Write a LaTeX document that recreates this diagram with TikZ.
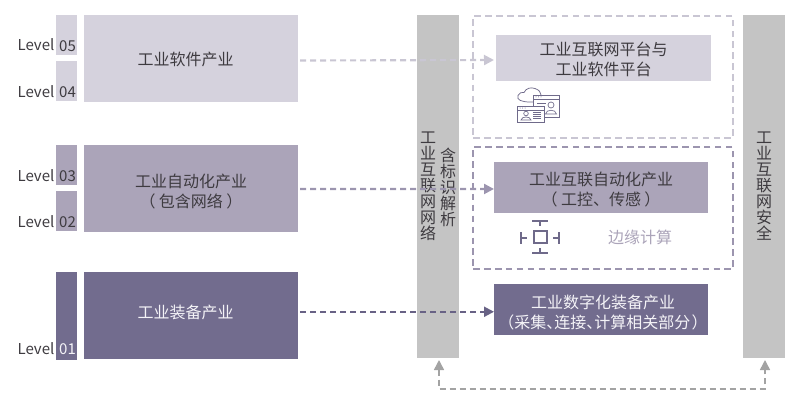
\documentclass[tikz,border=0pt]{standalone}
\usepackage{fontspec}
\setmainfont{Noto Sans CJK SC}
\usetikzlibrary{arrows.meta}
\definecolor{lightP}{HTML}{D5D2DD}
\definecolor{midP}{HTML}{ABA4B9}
\definecolor{darkP}{HTML}{726C8E}
\definecolor{barG}{HTML}{C4C4C4}
\definecolor{txtD}{HTML}{3E3B40}
\definecolor{txtW}{HTML}{F4F3F7}
\definecolor{arrL}{HTML}{C9C6D3}
\definecolor{arrM}{HTML}{9C95AF}
\definecolor{arrD}{HTML}{686285}
\definecolor{arrG}{HTML}{A3A3A3}
\definecolor{iconC}{HTML}{6F6A8A}
\newcommand\lifted[3]{\raisebox{#1}[0pt][0pt]{\hspace*{#2}\begin{tabular}{@{}c@{}}#3\end{tabular}}}
\tikzset{
  x=0.75pt,y=-0.75pt,
  block/.style={inner sep=0pt,outer sep=0pt,align=center,font=\fontsize{12pt}{15pt}\selectfont,text=txtD},
  softfill/.style={block,fill=lightP},
  midfill/.style={block,fill=midP},
  darkfill/.style={block,fill=darkP,text=txtW},
  barbox/.style={block,fill=barG,font=\fontsize{12pt}{12pt}\selectfont},
  lvl/.style={inner sep=0pt,font=\fontsize{11.25pt}{12pt}\selectfont,text=txtD},
  flow/.style={line width=1.6pt,dash pattern=on 4.5pt off 3pt,-{Triangle[length=7.5pt,width=7.5pt]}},
  loopflow/.style={line width=1.1pt,dash pattern=on 4.5pt off 3pt,{Triangle[length=7.5pt,width=7.5pt]}-{Triangle[length=7.5pt,width=7.5pt]}},
  zone/.style={draw,line width=1.1pt,dash pattern=on 5pt off 3.2pt,inner sep=0pt,outer sep=0pt},
  ico/.style={draw=iconC,line width=0.55pt,fill=white},
  edgeico/.style={draw=iconC,line width=1.5pt},
}
\begin{document}
\begin{tikzpicture}
\useasboundingbox (0,0) rectangle (800,404);
% level tabs
\node[softfill,minimum width=21*0.75pt,minimum height=40*0.75pt] (t5) at (66.5,35) {};
\node[softfill,minimum width=21*0.75pt,minimum height=40*0.75pt] (t4) at (66.5,81) {};
\node[midfill,minimum width=21*0.75pt,minimum height=40*0.75pt] (t3) at (66.5,165) {};
\node[midfill,minimum width=21*0.75pt,minimum height=40*0.75pt] (t2) at (66.5,211) {};
\node[darkfill,minimum width=21*0.75pt,minimum height=88*0.75pt] (t1) at (66.5,316) {};
\node[lvl] (l5) at (36,45) {Level};
\node[lvl] (l4) at (36,91.5) {Level};
\node[lvl] (l3) at (36,175.5) {Level};
\node[lvl] (l2) at (36,222) {Level};
\node[lvl] (l1) at (36,349) {Level};
\node[lvl] (n5) at (67.5,46) {05};
\node[lvl] (n4) at (67.5,92) {04};
\node[lvl] (n3) at (67.5,176) {03};
\node[lvl] (n2) at (67.5,222.5) {02};
\node[lvl,text=txtW] (n1) at (67.5,349.5) {01};
% industry blocks
\node[softfill,minimum width=214*0.75pt,minimum height=87*0.75pt] (soft) at (191,58.5) {\lifted{-5.5pt}{-8pt}{工业软件产业}};
\node[midfill,minimum width=214*0.75pt,minimum height=87*0.75pt] (auto) at (191,188.5) {\lifted{-6.4pt}{0pt}{工业自动化产业\\（\hspace{2.5pt}包含网络\hspace{2.5pt}）}};
\node[darkfill,minimum width=214*0.75pt,minimum height=87*0.75pt] (equip) at (191,315.5) {\lifted{-2.5pt}{-8pt}{工业装备产业}};
% vertical bars
\node[barbox,minimum width=42*0.75pt,minimum height=343*0.75pt] (net) at (438,186.5) {};
\node[barbox,minimum width=42*0.75pt,minimum height=343*0.75pt] (sec) at (764,186.5) {};
\node[barbox,fill=none] (netA) at (428,186.5) {工\\业\\互\\联\\网\\网\\络};
\node[barbox,fill=none] (netB) at (448,187.5) {含\\标\\识\\解\\析};
\node[barbox,fill=none] (secA) at (764,186.5) {工\\业\\互\\联\\网\\安\\全};
% dashed zones
\node[zone,draw=arrL,minimum width=260*0.75pt,minimum height=122*0.75pt] (zoneA) at (603,77) {};
\node[zone,draw=arrM,minimum width=260*0.75pt,minimum height=122*0.75pt] (zoneB) at (603,208) {};
% right blocks
\node[softfill,minimum width=215*0.75pt,minimum height=46*0.75pt] (plat) at (603.5,58) {\lifted{-5.85pt}{0pt}{工业互联网平台与\\工业软件平台}};
\node[midfill,minimum width=214*0.75pt,minimum height=51*0.75pt] (ctrl) at (601,187.5) {\lifted{-6.25pt}{0pt}{工业互联自动化产业\\（\hspace{2.5pt}工控、传感\hspace{2.5pt}）}};
\node[darkfill,minimum width=214*0.75pt,minimum height=51*0.75pt] (digi) at (601,309.5) {\lifted{-7pt}{3pt}{工业数字化装备产业\\（采集、\hspace{-6pt}连接、\hspace{-6pt}计算相关部分\hspace{1pt}）}};
\node[inner sep=0pt,font=\fontsize{12pt}{15pt}\selectfont,text=midP] (edge) at (640,237.5) {边缘计算};
% arrows
\draw[flow,draw=arrL] ([yshift=-1.5pt,xshift=1.5pt]soft.east) -- ([yshift=-1.5pt,xshift=-1.5pt]plat.west);
\draw[flow,draw=arrM] ([yshift=-0.4pt,xshift=1.5pt]auto.east) -- ([yshift=-1.1pt]ctrl.west);
\draw[flow,draw=arrD] ([yshift=2.8pt,xshift=1.5pt]equip.east) -- ([yshift=-1.7pt]digi.west);
\coordinate (btmL) at (439,389);
\coordinate (btmR) at (765,389);
\draw[loopflow,draw=arrG]
  ([xshift=0.75pt,yshift=-1.5pt]net.south) -- (btmL) -- (btmR) -- ([xshift=0.75pt,yshift=-1.5pt]sec.south);
% cloud icon
\draw[ico,line cap=round] (530,102) .. controls (522,102) and (516,100) .. (518,95.5) .. controls (519,92.5) and (522,92) .. (524,92.5)
  .. controls (526,88) and (531,87) .. (535,88.5) .. controls (539,90) and (541,92) .. (541,95) -- (541,102) -- cycle;
\draw[ico] (533.5,95) rectangle (559.5,117);
\draw[iconC,line width=0.5pt] (533.5,99) -- (559.5,99);
\fill[iconC] (536,96.9) circle (0.5) (538.5,96.9) circle (0.5) (541,96.9) circle (0.5);
\draw[iconC,line width=0.45pt] (537,103) -- (546,103) (537,106) -- (544,106);
\draw[iconC,line width=0.5pt] (551,105) circle (3) (545.5,114) .. controls (546,109) and (556,109) .. (556.5,114) -- cycle;
\draw[ico] (517.5,106) rectangle (544,122);
\draw[iconC,line width=0.5pt] (517.5,110) -- (544,110);
\fill[iconC] (520,108) circle (0.5) (522.5,108) circle (0.5) (525,108) circle (0.5);
\draw[iconC,line width=0.5pt] (526,113.5) circle (2.3) (521,120) .. controls (521.5,116) and (530.5,116) .. (531,120) -- cycle;
\draw[iconC,line width=0.45pt] (533,112.5) -- (541,112.5) (533,114.5) -- (541,114.5) (533,116.5) -- (541,116.5) (533,118.5) -- (541,118.5);
% edge icon
\draw[edgeico] (533.5,231) rectangle (546.5,243);
\draw[edgeico] (532,221) -- (548,221) (540,221) -- (540,226)
  (532,253) -- (548,253) (540,253) -- (540,248)
  (521,232) -- (521,244) (521,238) -- (527,238)
  (559,232) -- (559,244) (559,238) -- (553,238);
\end{tikzpicture}
\end{document}
